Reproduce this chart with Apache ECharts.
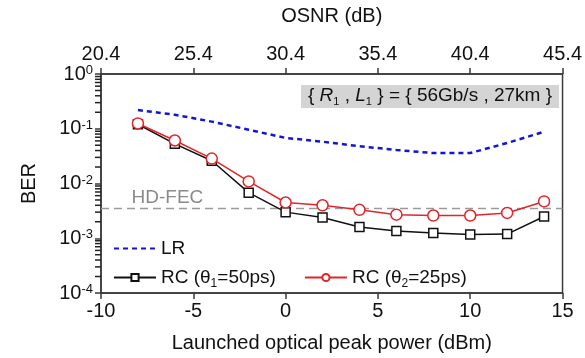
<!DOCTYPE html>
<html>
<head>
<meta charset="UTF-8">
<title>BER vs launched power</title>
<script src="https://cdn.jsdelivr.net/npm/echarts@6/dist/echarts.min.js"></script>
<style>
  html, body { margin: 0; padding: 0; background: #fff; }
  #chart { width: 585px; height: 358px; }
</style>
</head>
<body>
<div id="chart"></div>
<script>
  // launched optical peak power (dBm)
  var powerDbm = [-8, -6, -4, -2, 0, 2, 4, 6, 8, 10, 12, 14];
  var berLR = [0.22, 0.18, 0.135, 0.096, 0.068, 0.058, 0.048, 0.041, 0.036, 0.036, 0.055, 0.088];
  var berRC50 = [0.121, 0.053, 0.026, 0.0068, 0.0030, 0.0024, 0.0016, 0.00136, 0.00125, 0.00117, 0.00119, 0.0025];
  var berRC25 = [0.125, 0.061, 0.0285, 0.0109, 0.0045, 0.0040, 0.0033, 0.0027, 0.0026, 0.0026, 0.0029, 0.0047];
  var seriesNames = ['LR', 'RC (θ1=50ps)', 'RC (θ2=25ps)'];
  var osnrLabels = ['20.4', '25.4', '30.4', '35.4', '40.4', '45.4'];
  var xRange = [-10, 15];
  var decades = [-4, 0];
  var fecLimit = 3.5e-3;
  var fecLabel = 'HD-FEC';

  function pairs(ys) {
    return powerDbm.map(function (x, i) { return [x, ys[i]]; });
  }

  // minor log ticks 2..9 in every decade
  var minorTicks = [];
  for (var d = decades[0]; d < decades[1]; d++) {
    for (var k = 2; k <= 9; k++) minorTicks.push([xRange[0], k * Math.pow(10, d)]);
  }

  var font = 'Liberation Sans';
  var axisColor = '#3a3a3a';

  var chart = echarts.init(document.getElementById('chart'), null, { renderer: 'canvas' });

  var option = {
    animation: false,
    textStyle: { fontFamily: font },
    title: {
      text: '{ {i|R}{sub|1} , {i|L}{sub|1} } = { 56Gb/s , 27km }',
      left: 301,
      top: 83,
      backgroundColor: '#d4d4d4',
      padding: [1, 7, 1, 7],
      textStyle: {
        fontSize: 19, fontWeight: 'normal', color: '#111', fontFamily: font,
        rich: {
          i: { fontSize: 19, fontStyle: 'italic', color: '#111', fontFamily: font },
          sub: { fontSize: 11, color: '#111', verticalAlign: 'top', padding: [12, 0, 0, 0], fontFamily: font }
        }
      }
    },
    grid: {
      left: 101, right: 21, top: 74, bottom: 64,
      show: true, borderColor: axisColor, borderWidth: 1.5, backgroundColor: 'transparent'
    },
    legend: [
      {
        data: [{ name: seriesNames[0], itemStyle: { opacity: 0 } }],
        left: 108, top: 234, itemWidth: 42, itemHeight: 9,
        textStyle: { fontSize: 19, color: '#111' }
      },
      {
        data: [seriesNames[1], seriesNames[2]], left: 108, top: 263, itemWidth: 42, itemHeight: 9,
        itemGap: 28,
        formatter: function (name) { return name.replace(/θ(\d)/, 'θ{sub|$1}'); },
        textStyle: {
          fontSize: 19, color: '#111',
          rich: { sub: { fontSize: 12, color: '#111', verticalAlign: 'top', padding: [12, 0, 0, 0] } }
        }
      }
    ],
    xAxis: [
      {
        type: 'value', position: 'bottom', min: xRange[0], max: xRange[1], interval: 5,
        name: 'Launched optical peak power (dBm)', nameLocation: 'middle', nameGap: 40,
        nameTextStyle: { fontSize: 20, color: '#111' },
        axisLine: { show: true, onZero: false, lineStyle: { color: axisColor, width: 1.5 } },
        axisTick: { show: true, length: 6, lineStyle: { color: axisColor, width: 1.5 } },
        axisLabel: { fontSize: 20, color: '#111', margin: 8 },
        splitLine: { show: false }
      },
      {
        type: 'value', position: 'top', min: xRange[0], max: xRange[1], interval: 5,
        name: 'OSNR (dB)', nameLocation: 'middle', nameGap: 48,
        nameTextStyle: { fontSize: 20, color: '#111' },
        axisLine: { show: true, onZero: false, lineStyle: { color: axisColor, width: 1.5 } },
        axisTick: { show: true, length: 6, lineStyle: { color: axisColor, width: 1.5 } },
        axisLabel: {
          fontSize: 20, color: '#111', margin: 10,
          formatter: function (v) { return osnrLabels[Math.round((v - xRange[0]) / 5)]; }
        },
        splitLine: { show: false }
      }
    ],
    yAxis: {
      type: 'log', logBase: 10, min: Math.pow(10, decades[0]), max: Math.pow(10, decades[1]), interval: 1,
      name: 'BER', nameLocation: 'middle', nameGap: 62,
      nameTextStyle: { fontSize: 20, color: '#111' },
      axisLine: { show: true, onZero: false, lineStyle: { color: axisColor, width: 1.5 } },
      axisTick: { show: true, length: 6, lineStyle: { color: axisColor, width: 1.5 } },
      axisLabel: {
        margin: 8, color: '#111',
        formatter: function (v) {
          var e = Math.round(Math.log10(v));
          return '{b|10}{s|' + e + '}';
        },
        rich: {
          b: { fontSize: 20, color: '#111', fontFamily: font },
          s: { fontSize: 13, color: '#111', verticalAlign: 'top', fontFamily: font }
        }
      },
      splitLine: { show: false }
    },
    series: [
      {
        // minor ticks of the log axis, as thin marks just left of the axis line
        name: 'minor', type: 'scatter', data: minorTicks, silent: true, clip: false,
        symbol: 'rect', symbolSize: [6, 1.5], symbolOffset: [-3, 0],
        itemStyle: { color: '#222', opacity: 1 },
        z: 10
      },
      {
        name: fecLabel, type: 'line', symbol: 'circle', symbolSize: 1, silent: true,
        data: [[xRange[0], fecLimit], [xRange[1], fecLimit]],
        itemStyle: { color: 'rgba(0,0,0,0)' },
        lineStyle: { color: '#9a9a9a', width: 1.5, type: [8, 5] },
        label: {
          show: true, color: '#8a8a8a', fontSize: 19, position: 'right', offset: [25, -11],
          formatter: function (p) { return p.dataIndex === 0 ? fecLabel : ''; }
        },
        z: 1
      },
      {
        name: seriesNames[0], type: 'line', data: pairs(berLR), symbol: 'none',
        itemStyle: { color: '#1414d6' },
        lineStyle: { color: '#1414d6', width: 2.5, type: [5, 4] },
        z: 2
      },
      {
        name: seriesNames[1], type: 'line', data: pairs(berRC50), symbol: 'rect', symbolSize: 9,
        itemStyle: { color: '#fff', borderColor: '#111', borderWidth: 1.5 },
        lineStyle: { color: '#111', width: 1.5 },
        z: 3
      },
      {
        name: seriesNames[2], type: 'line', data: pairs(berRC25), symbol: 'circle', symbolSize: 11,
        itemStyle: { color: '#fff', borderColor: '#e3242b', borderWidth: 1.5 },
        lineStyle: { color: '#e3242b', width: 1.5 },
        z: 4
      }
    ]
  };

  chart.setOption(option);
</script>
</body>
</html>
